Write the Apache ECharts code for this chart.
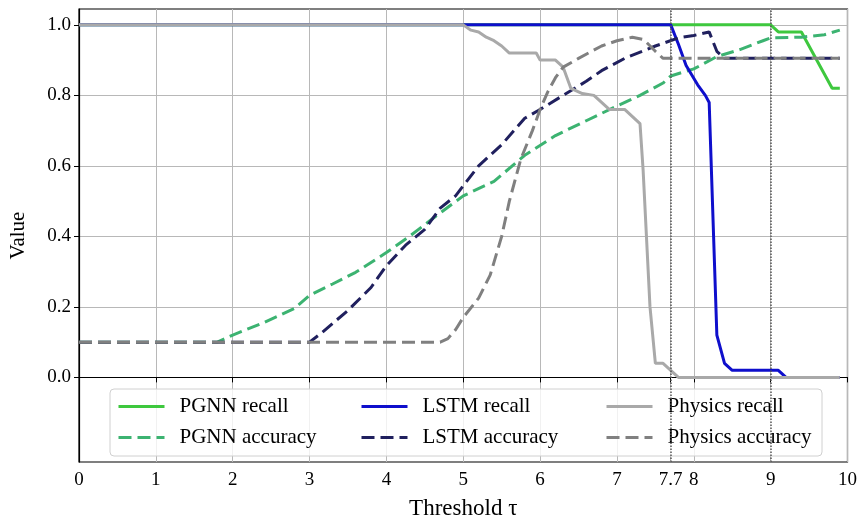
<!DOCTYPE html>
<html>
<head>
<meta charset="utf-8">
<script src="https://cdn.jsdelivr.net/npm/echarts@6/dist/echarts.min.js"></script>
<style>
  html, body { margin: 0; padding: 0; background: #fff; }
  #chart { width: 860px; height: 525px; }
</style>
</head>
<body>
<div id="chart"></div>
<script>
// values
const pgnnRecallX = [0, 9.0, 9.1, 9.4, 9.8, 9.9]
const pgnnRecallY = [1.0, 1.0, 0.98, 0.98, 0.82, 0.82]

const pgnnAccX = [0, 1.8, 2.0, 2.4, 2.8, 3.0, 3.3, 3.6, 4.0, 4.3, 4.6, 5.0, 5.4, 5.8, 6.2, 6.6, 7.0, 7.3, 7.6, 7.7, 8.0, 8.3, 8.6, 8.9, 9.0, 9.4, 9.7, 9.9]
const pgnnAccY = [0.10, 0.10, 0.12, 0.155, 0.195, 0.233, 0.265, 0.298, 0.354, 0.40, 0.45, 0.515, 0.556, 0.63, 0.686, 0.728, 0.77, 0.80, 0.835, 0.855, 0.875, 0.91, 0.93, 0.955, 0.963, 0.965, 0.972, 0.985]

const lstmRecallX = [0, 7.7, 7.8, 7.9, 8.05, 8.15, 8.2, 8.3, 8.4, 8.5, 9.1, 9.2, 9.9]
const lstmRecallY = [1.0, 1.0, 0.945, 0.885, 0.83, 0.80, 0.78, 0.12, 0.04, 0.02, 0.02, 0.0, 0.0]

const lstmAccX = [0, 3.0, 3.15, 3.5, 3.8, 4.0, 4.25, 4.5, 4.7, 4.9, 5.2, 5.5, 5.8, 6.0, 6.3, 6.6, 6.8, 7.1, 7.5, 7.8, 8.0, 8.2, 8.3, 8.4, 9.9]
const lstmAccY = [0.10, 0.10, 0.125, 0.19, 0.255, 0.317, 0.375, 0.42, 0.48, 0.515, 0.60, 0.66, 0.735, 0.76, 0.80, 0.84, 0.87, 0.905, 0.94, 0.963, 0.97, 0.98, 0.925, 0.905, 0.905]

const physRecallX = [0, 5.0, 5.1, 5.2, 5.3, 5.4, 5.5, 5.6, 5.95, 6.0, 6.2, 6.3, 6.4, 6.55, 6.7, 6.9, 7.1, 7.3, 7.34, 7.43, 7.5, 7.6, 7.8, 9.9]
const physRecallY = [1.0, 1.0, 0.985, 0.98, 0.965, 0.955, 0.94, 0.92, 0.92, 0.90, 0.90, 0.88, 0.82, 0.805, 0.80, 0.76, 0.76, 0.72, 0.59, 0.20, 0.04, 0.04, 0.0, 0.0]

const physAccX = [0, 4.7, 4.8, 4.9, 5.0, 5.2, 5.35, 5.5, 5.6, 5.75, 5.9, 6.0, 6.1, 6.2, 6.3, 6.5, 6.8, 7.0, 7.2, 7.35, 7.5, 7.6, 9.9]
const physAccY = [0.10, 0.10, 0.11, 0.135, 0.17, 0.225, 0.29, 0.40, 0.50, 0.62, 0.70, 0.76, 0.81, 0.85, 0.88, 0.905, 0.94, 0.955, 0.965, 0.958, 0.925, 0.905, 0.905]

const xTickValues = [0, 1, 2, 3, 4, 5, 6, 7, 7.7, 8, 9, 10]
const yTickValues = [0, 0.2, 0.4, 0.6, 0.8, 1.0]
const markedThresholds = [7.7, 9]

const FONT = "'Liberation Serif', 'Times New Roman', serif"

function zip(xs, ys) {
  return xs.map((x, i) => [x, ys[i]])
}

function lineSeries(name, xs, ys, color, dashed) {
  return {
    name: name,
    type: 'line',
    data: zip(xs, ys),
    symbol: 'none',
    animation: false,
    lineStyle: {
      color: color,
      width: 3,
      type: dashed ? [13, 6] : 'solid'
    },
    itemStyle: { color: color },
    z: 3
  }
}

const chart = echarts.init(document.getElementById('chart'))

const legendCommon = {
  orient: 'vertical',
  top: 396,
  padding: 0,
  itemWidth: 46,
  itemHeight: 20,
  itemGap: 10,
  // hide the marker dot, keep only the line sample
  itemStyle: { opacity: 0 },
  lineStyle: { width: 3 },
  textStyle: { fontFamily: FONT, fontSize: 21, color: '#000', padding: [0, 0, 0, 10] },
  selectedMode: false,
  z: 5
}

const option = {
  animation: false,
  backgroundColor: '#fff',
  grid: {
    left: 78,
    right: 12,
    top: 9,
    bottom: 58,
    show: true,
    borderColor: '#000',
    borderWidth: 1.2,
    backgroundColor: 'transparent'
  },
  xAxis: {
    type: 'value',
    min: 0,
    max: 10,
    interval: 1,
    name: 'Threshold τ',
    nameLocation: 'middle',
    nameGap: 35,
    nameTextStyle: { fontFamily: FONT, fontSize: 23, color: '#000' },
    axisLine: { lineStyle: { color: '#000', width: 1.2 } },
    axisTick: { show: true, length: 5, lineStyle: { color: '#000' }, customValues: xTickValues },
    axisLabel: {
      fontFamily: FONT, fontSize: 19, color: '#000', margin: 9,
      customValues: xTickValues,
      formatter: v => String(v)
    },
    splitLine: { show: true, lineStyle: { color: '#b8b8b8', width: 1 } }
  },
  yAxis: {
    type: 'value',
    min: -0.24,
    max: 1.045,
    name: 'Value',
    nameLocation: 'middle',
    nameGap: 50,
    nameTextStyle: { fontFamily: FONT, fontSize: 21, color: '#000' },
    axisLine: { show: true, lineStyle: { color: '#000', width: 1.2 } },
    axisTick: { show: true, length: 5, lineStyle: { color: '#000' }, customValues: yTickValues },
    axisLabel: {
      fontFamily: FONT, fontSize: 19, color: '#000', margin: 8,
      customValues: yTickValues,
      formatter: v => v.toFixed(1)
    },
    splitLine: { show: true, lineStyle: { color: '#b8b8b8', width: 1 } }
  },
  legend: [
    Object.assign({ left: 117, data: ['PGNN recall', 'PGNN accuracy'] }, legendCommon),
    Object.assign({ left: 360, data: ['LSTM recall', 'LSTM accuracy'] }, legendCommon),
    Object.assign({ left: 605, data: ['Physics recall', 'Physics accuracy'] }, legendCommon)
  ],
  graphic: [{
    type: 'rect',
    z: 4,
    shape: { x: 110, y: 389, width: 712, height: 67, r: 4 },
    style: { fill: 'rgba(255,255,255,0.8)', stroke: '#d0d0d0', lineWidth: 1 }
  }],
  series: [
    {
      type: 'line',
      data: [],
      silent: true,
      z: 2,
      markLine: {
        silent: true,
        symbol: 'none',
        label: { show: false },
        lineStyle: { color: '#555', type: 'dotted', width: 1.5 },
        data: markedThresholds.map(v => ({ xAxis: v }))
      }
    },
    lineSeries('PGNN recall', pgnnRecallX, pgnnRecallY, '#3ec83e', false),
    lineSeries('PGNN accuracy', pgnnAccX, pgnnAccY, '#3cb371', true),
    lineSeries('LSTM recall', lstmRecallX, lstmRecallY, '#0f0fcc', false),
    lineSeries('LSTM accuracy', lstmAccX, lstmAccY, '#20205e', true),
    lineSeries('Physics recall', physRecallX, physRecallY, '#a9a9a9', false),
    lineSeries('Physics accuracy', physAccX, physAccY, '#808080', true)
  ]
}

chart.setOption(option)
</script>
</body>
</html>
